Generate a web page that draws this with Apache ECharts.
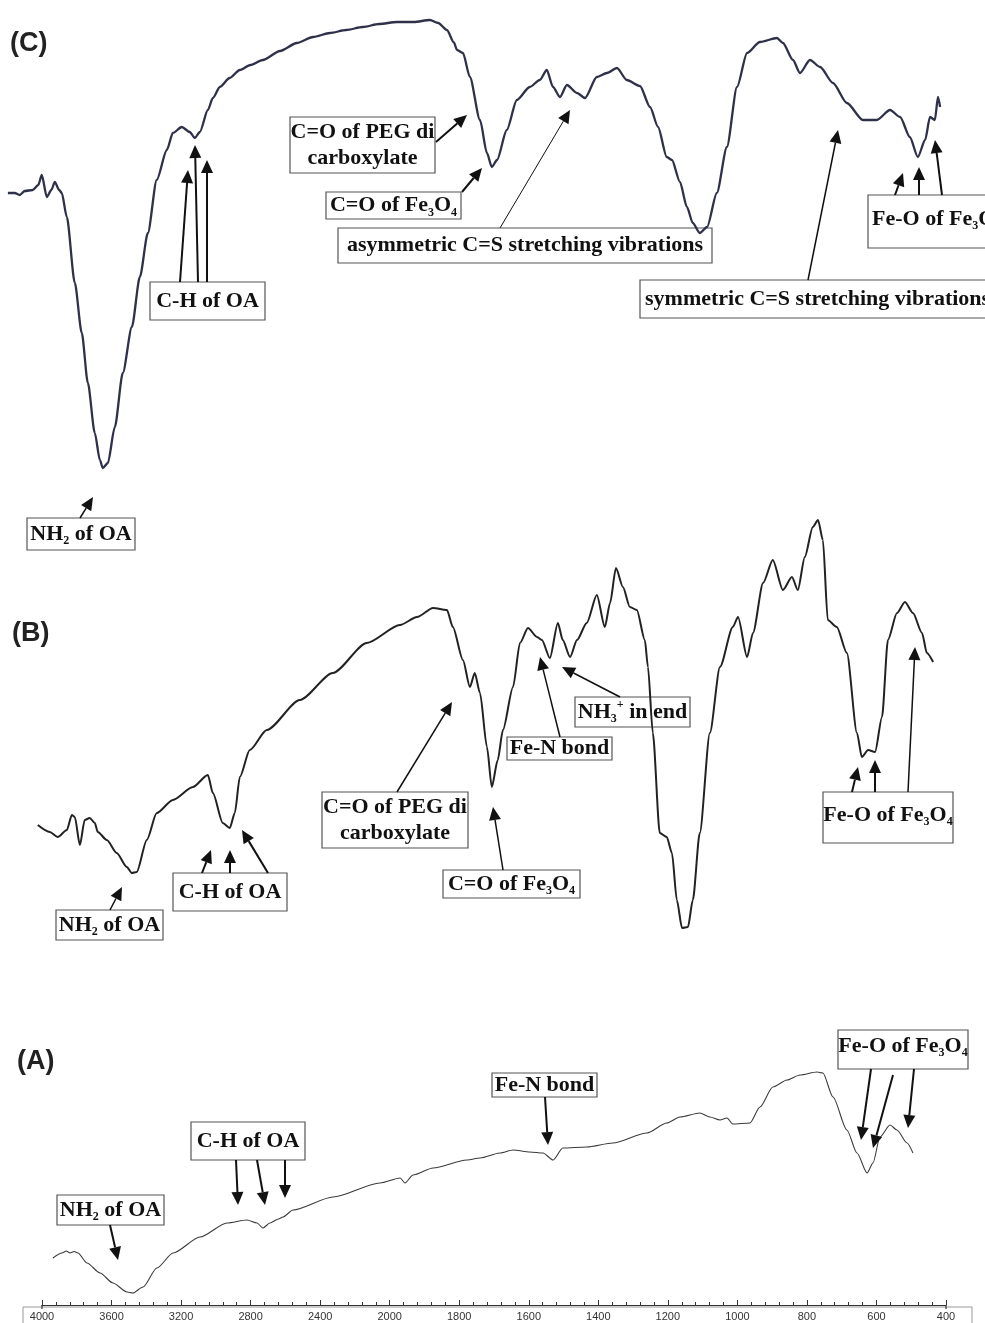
<!DOCTYPE html>
<html>
<head>
<meta charset="utf-8">
<title>FTIR (A)(B)(C)</title>
<script src="https://cdn.jsdelivr.net/npm/echarts@6/dist/echarts.min.js"></script>
<style>html,body{margin:0;background:#fff}</style>
</head>
<body>
<div id="main" style="width:985px;height:1323px;"></div>
<script>
// 刻度标签：2000 以下横轴放大一倍
var tickLabels = [4000, 3600, 3200, 2800, 2400, 2000, 1800, 1600, 1400, 1200, 1000, 800, 600, 400];

// (C) 波数 / 透过率(a.u.)
var wnC = [4195, 4155, 4127, 4098, 4052, 4020, 4000, 3971, 3945, 3925, 3900, 3885, 3856, 3810, 3770, 3735, 3695, 3666, 3649, 3620,
  3580, 3534, 3482, 3436, 3390, 3339, 3281, 3246, 3195, 3149, 3120, 3091, 3045, 3016, 2976, 2920, 2861, 2800, 2729, 2630,
  2533, 2440, 2343, 2250, 2154, 2060, 1979, 1930, 1884, 1860, 1835, 1815, 1806, 1789, 1769, 1740, 1720, 1706, 1691, 1663,
  1634, 1597, 1568, 1548, 1530, 1510, 1490, 1461, 1438, 1404, 1375, 1346, 1318, 1280, 1251, 1228, 1203, 1188, 1165, 1145,
  1128, 1108, 1087, 1059, 1030, 1001, 972, 935, 886, 869, 840, 820, 791, 762, 725, 685, 639, 599, 561, 532,
  504, 481, 460, 446, 432, 423, 417];
var tC = [63.4, 63.4, 63, 63.8, 64, 65, 67, 62.6, 64, 65.6, 64, 63.4, 58.6, 45.4, 35.4, 25.4, 15.4, 10, 8.4, 9.4,
  16.6, 27.4, 36.6, 46.6, 55.4, 66, 72, 75.4, 76.6, 75.6, 74.4, 75.6, 80, 82.4, 84.6, 86.4, 88, 89, 90, 91.8,
  93.4, 94.6, 95.4, 96, 96.6, 97.2, 97.6, 97.6, 98, 97.4, 96, 93.5, 92, 91.4, 86.6, 78, 71.4, 68.6, 70, 76,
  82, 84.6, 86, 88, 84.6, 82.6, 85, 83.4, 82.4, 86.6, 87.4, 88.4, 86, 84.8, 80.6, 76.6, 70.6, 70, 65.6, 60.6,
  57.4, 55.4, 56.6, 63.4, 72.6, 84.6, 91.4, 93.6, 94.4, 93.4, 90, 87.4, 90, 88.6, 85.4, 81.4, 78, 78, 80, 78.6,
  74.6, 70.6, 74, 78.6, 78, 82.6, 80.6];

// (B)
var wnB = [4023, 3954, 3908, 3856, 3827, 3810, 3781, 3753, 3724, 3695, 3678, 3626, 3569, 3511, 3482, 3454, 3396, 3339, 3246, 3131,
  3045, 3016, 2959, 2919, 2890, 2861, 2804, 2706, 2516, 2326, 2131, 1970, 1921, 1875, 1835, 1818, 1789, 1769, 1755, 1740,
  1720, 1706, 1689, 1674, 1645, 1625, 1602, 1576, 1562, 1539, 1516, 1502, 1481, 1461, 1433, 1404, 1381, 1366, 1349, 1329,
  1309, 1289, 1266, 1257, 1243, 1223, 1203, 1188, 1174, 1159, 1142, 1128, 1108, 1079, 1050, 1013, 998, 972, 955, 926,
  898, 869, 843, 826, 806, 783, 768, 754, 740, 714, 685, 656, 642, 624, 604, 584, 567, 541, 518, 495,
  469, 455, 437];
var tB = [33, 31.6, 30.6, 32, 35, 34.6, 29, 34, 34.4, 33.4, 31.6, 30, 27.4, 24.6, 23.4, 23.6, 30, 35.4, 38, 40.6,
  43, 39.4, 33.4, 32.4, 35.4, 42.6, 48, 52, 58, 63.4, 69.4, 73, 74.6, 76.4, 76, 72.6, 66, 60.6, 63.4, 59.4,
  48.6, 40.6, 46, 52, 60.6, 69.4, 72.4, 70.6, 70, 66.4, 73.4, 70, 66.6, 70, 73.4, 79, 72.6, 77.4, 84.4, 80.6,
  76.6, 76, 70, 64.6, 51.4, 31.4, 30.6, 27.4, 18, 12.4, 12.6, 18, 31.4, 51.4, 64.6, 72.6, 74.6, 66.6, 71.4, 81.4,
  86, 80, 82.6, 80, 86.6, 92.6, 94, 90, 74, 72.6, 67.4, 51.4, 46.6, 48, 47.6, 54.6, 70, 75.4, 77.6, 75.4,
  71.4, 67.4, 65.6];

// (A)
var wnA = [3937, 3885, 3860, 3839, 3815, 3793, 3741, 3666, 3592, 3511, 3477, 3419, 3339, 3246, 3091, 2936, 2821, 2763, 2729, 2689,
  2640, 2614, 2556, 2326, 2056, 1970, 1956, 1933, 1875, 1778, 1740, 1683, 1645, 1597, 1559, 1530, 1502, 1433, 1358, 1260,
  1203, 1165, 1108, 1079, 1050, 1030, 1013, 964, 935, 898, 857, 820, 771, 754, 725, 685, 656, 627, 610, 590,
  561, 541, 512, 495];
var tA = [16.8, 18.8, 19.6, 18.8, 19.4, 18.8, 14.8, 10.8, 6.8, 3.2, 2.8, 5.2, 12.8, 18.8, 25.2, 30.8, 32, 30.8, 28.8, 30.8,
  32.4, 33.2, 36, 41.2, 46.8, 48.8, 46.8, 50, 52.8, 56, 56.8, 58.8, 60, 59.2, 58.8, 56, 60.8, 61.2, 62.8, 66.8,
  70.8, 73.2, 74.8, 73.2, 72, 72.8, 70.4, 70.8, 77.2, 85.2, 88, 90, 91.2, 90.8, 81.2, 68, 58.8, 50.8, 54.8, 65.2,
  70, 68, 62.8, 58.8];

// 波数 -> 横轴坐标 (2000 cm-1 处换比例)
function toU(w) { return w >= 2000 ? (4000 - w) / 2 : 3000 - w; }
function pairs(wn, t) { return wn.map(function (w, i) { return [toU(w), t[i]]; }); }

var serif = '"Liberation Serif", "Times New Roman", serif';
var rich = {
  s: { fontSize: 12, fontWeight: 'bold', fontFamily: serif, verticalAlign: 'bottom' },
  p: { fontSize: 12, fontWeight: 'bold', fontFamily: serif, verticalAlign: 'top' }
};

function box(x1, y1, x2, y2, text, tx, ty, align) {
  return [
    { type: 'rect', z: 1, shape: { x: x1, y: y1, width: x2 - x1, height: y2 - y1 },
      style: { fill: 'none', stroke: '#555', lineWidth: 1.2 } },
    { type: 'text', z: 1, x: tx == null ? (x1 + x2) / 2 : tx, y: ty == null ? (y1 + y2) / 2 : ty,
      style: { text: text, rich: rich, fill: '#111', fontSize: 22, fontWeight: 'bold', fontFamily: serif,
        lineHeight: 26, align: align || 'center', verticalAlign: 'middle' } }
  ];
}
function arrow(x1, y1, x2, y2, lw) {
  var dx = x2 - x1, dy = y2 - y1, L = Math.sqrt(dx * dx + dy * dy);
  var ux = dx / L, uy = dy / L, hl = 13, hw = 6;
  var bx = x2 - ux * hl, by = y2 - uy * hl;
  return [
    { type: 'line', z: 3, shape: { x1: x1, y1: y1, x2: bx, y2: by }, style: { stroke: '#111', lineWidth: lw || 2 } },
    { type: 'polygon', z: 3, shape: { points: [[x2, y2], [bx - uy * hw, by + ux * hw], [bx + uy * hw, by - ux * hw]] },
      style: { fill: '#111' } }
  ];
}
function panelTag(text, x, y) {
  return { type: 'text', z: 1, x: x, y: y,
    style: { text: text, fill: '#222', fontSize: 27, fontWeight: 'bold', fontFamily: '"Liberation Sans", Arial, sans-serif',
      verticalAlign: 'middle' } };
}

var gfx = [].concat(
  // (C)
  panelTag('(C)', 10, 44),
  box(150, 282, 265, 320, 'C-H of OA'),
  arrow(180, 282, 188, 170), arrow(198, 282, 195, 145), arrow(207, 282, 207, 160),
  box(290, 117, 435, 173, 'C=O of PEG di\ncarboxylate'),
  arrow(436, 142, 467, 115),
  box(326, 192, 461, 219, 'C=O of Fe{s|3}O{s|4}'),
  arrow(462, 192, 482, 168),
  box(338, 228, 712, 263, 'asymmetric C=S stretching vibrations'),
  arrow(500, 228, 570, 110, 1),
  box(640, 280, 992, 318, 'symmetric C=S stretching vibrations', 645, 299, 'left'),
  arrow(808, 280, 838, 130, 1.5),
  box(868, 195, 992, 248, 'Fe-O of Fe{s|3}O{s|4}', 872, 219, 'left'),
  arrow(895, 195, 903, 173), arrow(919, 195, 919, 167), arrow(942, 195, 935, 140),
  box(27, 518, 135, 550, 'NH{s|2} of OA'),
  arrow(80, 518, 93, 497, 1.5),
  // (B)
  panelTag('(B)', 12, 634),
  box(56, 910, 163, 940, 'NH{s|2} of OA'),
  arrow(110, 910, 122, 887, 1.5),
  box(173, 873, 287, 911, 'C-H of OA'),
  arrow(202, 873, 211, 850), arrow(230, 873, 230, 850), arrow(268, 873, 242, 830),
  box(322, 792, 468, 848, 'C=O of PEG di\ncarboxylate'),
  arrow(397, 792, 452, 702, 1.5),
  box(443, 870, 580, 898, 'C=O of Fe{s|3}O{s|4}'),
  arrow(503, 870, 493, 807, 1.5),
  box(507, 737, 612, 760, 'Fe-N bond'),
  arrow(560, 737, 540, 657, 1.5),
  box(575, 697, 690, 727, 'NH{s|3}{p|+} in end'),
  arrow(620, 697, 562, 667, 1.5),
  box(823, 792, 953, 843, 'Fe-O of Fe{s|3}O{s|4}', null, 815),
  arrow(852, 792, 858, 767), arrow(875, 792, 875, 760), arrow(908, 792, 915, 647, 1.5),
  // (A)
  panelTag('(A)', 17, 1062),
  box(57, 1195, 164, 1225, 'NH{s|2} of OA'),
  arrow(110, 1225, 118, 1260),
  box(191, 1122, 305, 1160, 'C-H of OA'),
  arrow(236, 1160, 238, 1205), arrow(257, 1160, 265, 1205), arrow(285, 1160, 285, 1198),
  box(492, 1073, 597, 1097, 'Fe-N bond'),
  arrow(545, 1097, 548, 1145),
  box(838, 1030, 968, 1069, 'Fe-O of Fe{s|3}O{s|4}', null, 1046),
  arrow(871, 1069, 861, 1140), arrow(893, 1075, 873, 1148), arrow(914, 1069, 908, 1128),
  // 刻度框
  [{ type: 'rect', z: 0, shape: { x: 23, y: 1307, width: 949, height: 30 }, style: { fill: 'none', stroke: '#999', lineWidth: 1 } },
   { type: 'line', z: 3, shape: { x1: 42, y1: 1305, x2: 42, y2: 1309 }, style: { stroke: '#333', lineWidth: 1.2 } },
   { type: 'line', z: 3, shape: { x1: 946, y1: 1305, x2: 946, y2: 1309 }, style: { stroke: '#333', lineWidth: 1.2 } }]
);

var chart = echarts.init(document.getElementById('main'));
var hidX = { type: 'value', min: -100, max: 2600, show: false };
var lineBase = { type: 'line', showSymbol: false, smooth: 0.25, smoothMonotone: 'x', z: 2 };

chart.setOption({
  backgroundColor: '#fff',
  animation: false,
  grid: [
    { left: 7, right: 39, top: 10, height: 500 },
    { left: 7, right: 39, top: 490, height: 500 },
    { left: 42, right: 39, top: 1050, height: 255 }
  ],
  xAxis: [
    Object.assign({ gridIndex: 0 }, hidX),
    Object.assign({ gridIndex: 1 }, hidX),
    {
      gridIndex: 2, type: 'value', min: 0, max: 2600, interval: 200,
      axisLine: { onZero: false, lineStyle: { color: '#333', width: 1.2 } },
      axisTick: { inside: true, length: 5, lineStyle: { color: '#333' } },
      minorTick: { show: true, splitNumber: 5, length: 3, lineStyle: { color: '#333' } },
      splitLine: { show: false },
      axisLabel: {
        margin: 6, fontSize: 11, color: '#333', fontFamily: '"Liberation Sans", Arial, sans-serif',
        formatter: function (v) { return tickLabels[Math.round(v / 200)]; }
      }
    }
  ],
  yAxis: [
    { gridIndex: 0, type: 'value', min: 0, max: 100, show: false },
    { gridIndex: 1, type: 'value', min: 0, max: 100, show: false },
    { gridIndex: 2, type: 'value', min: -2, max: 100, show: false }
  ],
  series: [
    Object.assign({ xAxisIndex: 0, yAxisIndex: 0, data: pairs(wnC, tC), lineStyle: { color: '#2e3149', width: 2.3 } }, lineBase),
    Object.assign({ xAxisIndex: 1, yAxisIndex: 1, data: pairs(wnB, tB), lineStyle: { color: '#222', width: 2 } }, lineBase),
    Object.assign({ xAxisIndex: 2, yAxisIndex: 2, data: pairs(wnA, tA), lineStyle: { color: '#3a3a3a', width: 1.1 } }, lineBase)
  ],
  graphic: gfx
});
</script>
</body>
</html>
